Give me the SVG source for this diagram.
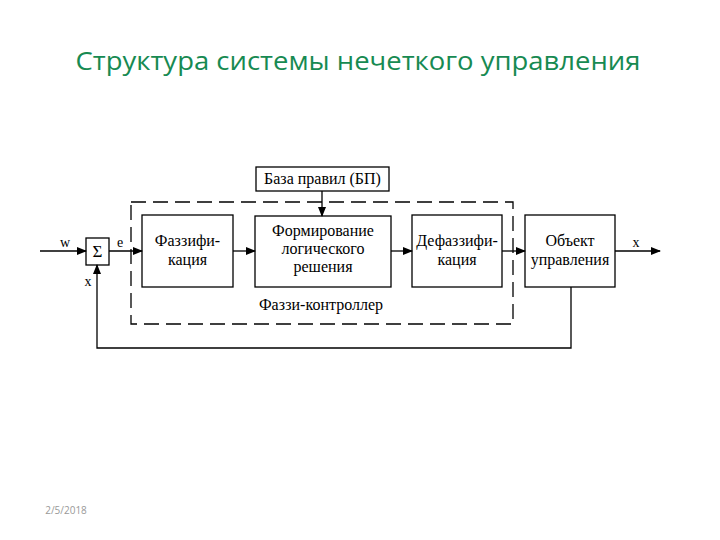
<svg xmlns="http://www.w3.org/2000/svg" width="720" height="540" viewBox="0 0 720 540">
<style>
.box{fill:#fff;stroke:#000;stroke-width:1.3}
.ln{fill:none;stroke:#000;stroke-width:1.3}
</style>
<defs>
<marker id="ar" markerWidth="10" markerHeight="8" refX="9" refY="4" orient="auto" markerUnits="userSpaceOnUse">
<path d="M0,0 L10,4 L0,8 Z" fill="#000"/>
</marker>
</defs>
<rect width="720" height="540" fill="#fff"/>
<text x="358" y="70" font-family="Open Sans, Noto Sans, sans-serif" font-size="25" fill="#178a52" text-anchor="middle" textLength="565" lengthAdjust="spacingAndGlyphs">Структура системы нечеткого управления</text>
<g font-family="Liberation Serif, serif" font-size="16" fill="#000" text-anchor="middle">
<g id="controller">
<rect x="131" y="202" width="382" height="122" fill="none" stroke="#000" stroke-width="1.3" stroke-dasharray="15 7"/>
<text x="321" y="310">Фаззи-контроллер</text>
</g>
<g id="sum">
<rect class="box" x="86" y="238" width="23" height="27"/>
<text x="97.5" y="257" font-size="17">Σ</text>
</g>
<g id="fuzz">
<rect class="box" x="142" y="215" width="91" height="72"/>
<text x="187.5" y="246">Фаззифи-</text>
<text x="187.5" y="265">кация</text>
</g>
<g id="rules">
<rect class="box" x="256" y="167" width="133" height="24"/>
<text x="322.5" y="184">База правил (БП)</text>
</g>
<g id="logic">
<rect class="box" x="255" y="216" width="136" height="71"/>
<text x="323" y="236">Формирование</text>
<text x="323" y="254">логического</text>
<text x="323" y="272">решения</text>
</g>
<g id="defuzz">
<rect class="box" x="412" y="215" width="90" height="72"/>
<text x="457" y="246">Дефаззифи-</text>
<text x="457" y="265">кация</text>
</g>
<g id="object">
<rect class="box" x="525" y="215" width="90" height="72"/>
<text x="570" y="246">Объект</text>
<text x="570" y="265">управления</text>
</g>
<g id="labels" font-size="14">
<text x="65" y="247">w</text>
<text x="120" y="247">e</text>
<text x="88" y="286">x</text>
<text x="636" y="247">x</text>
</g>
</g>
<g id="connectors">
<line class="ln" x1="40" y1="251" x2="86" y2="251" marker-end="url(#ar)"/>
<line class="ln" x1="109" y1="251" x2="142" y2="251" marker-end="url(#ar)"/>
<line class="ln" x1="233" y1="251" x2="255" y2="251" marker-end="url(#ar)"/>
<line class="ln" x1="391" y1="251" x2="412" y2="251" marker-end="url(#ar)"/>
<line class="ln" x1="502" y1="251" x2="525" y2="251" marker-end="url(#ar)"/>
<line class="ln" x1="615" y1="251" x2="660" y2="251" marker-end="url(#ar)"/>
<line class="ln" x1="322" y1="191" x2="322" y2="216" marker-end="url(#ar)"/>
<polyline class="ln" points="571,287 571,348 97,348 97,265" marker-end="url(#ar)"/>
</g>
<text x="66" y="514" font-family="Open Sans, Noto Sans, sans-serif" font-size="10" fill="#999" text-anchor="middle">2/5/2018</text>
</svg>
